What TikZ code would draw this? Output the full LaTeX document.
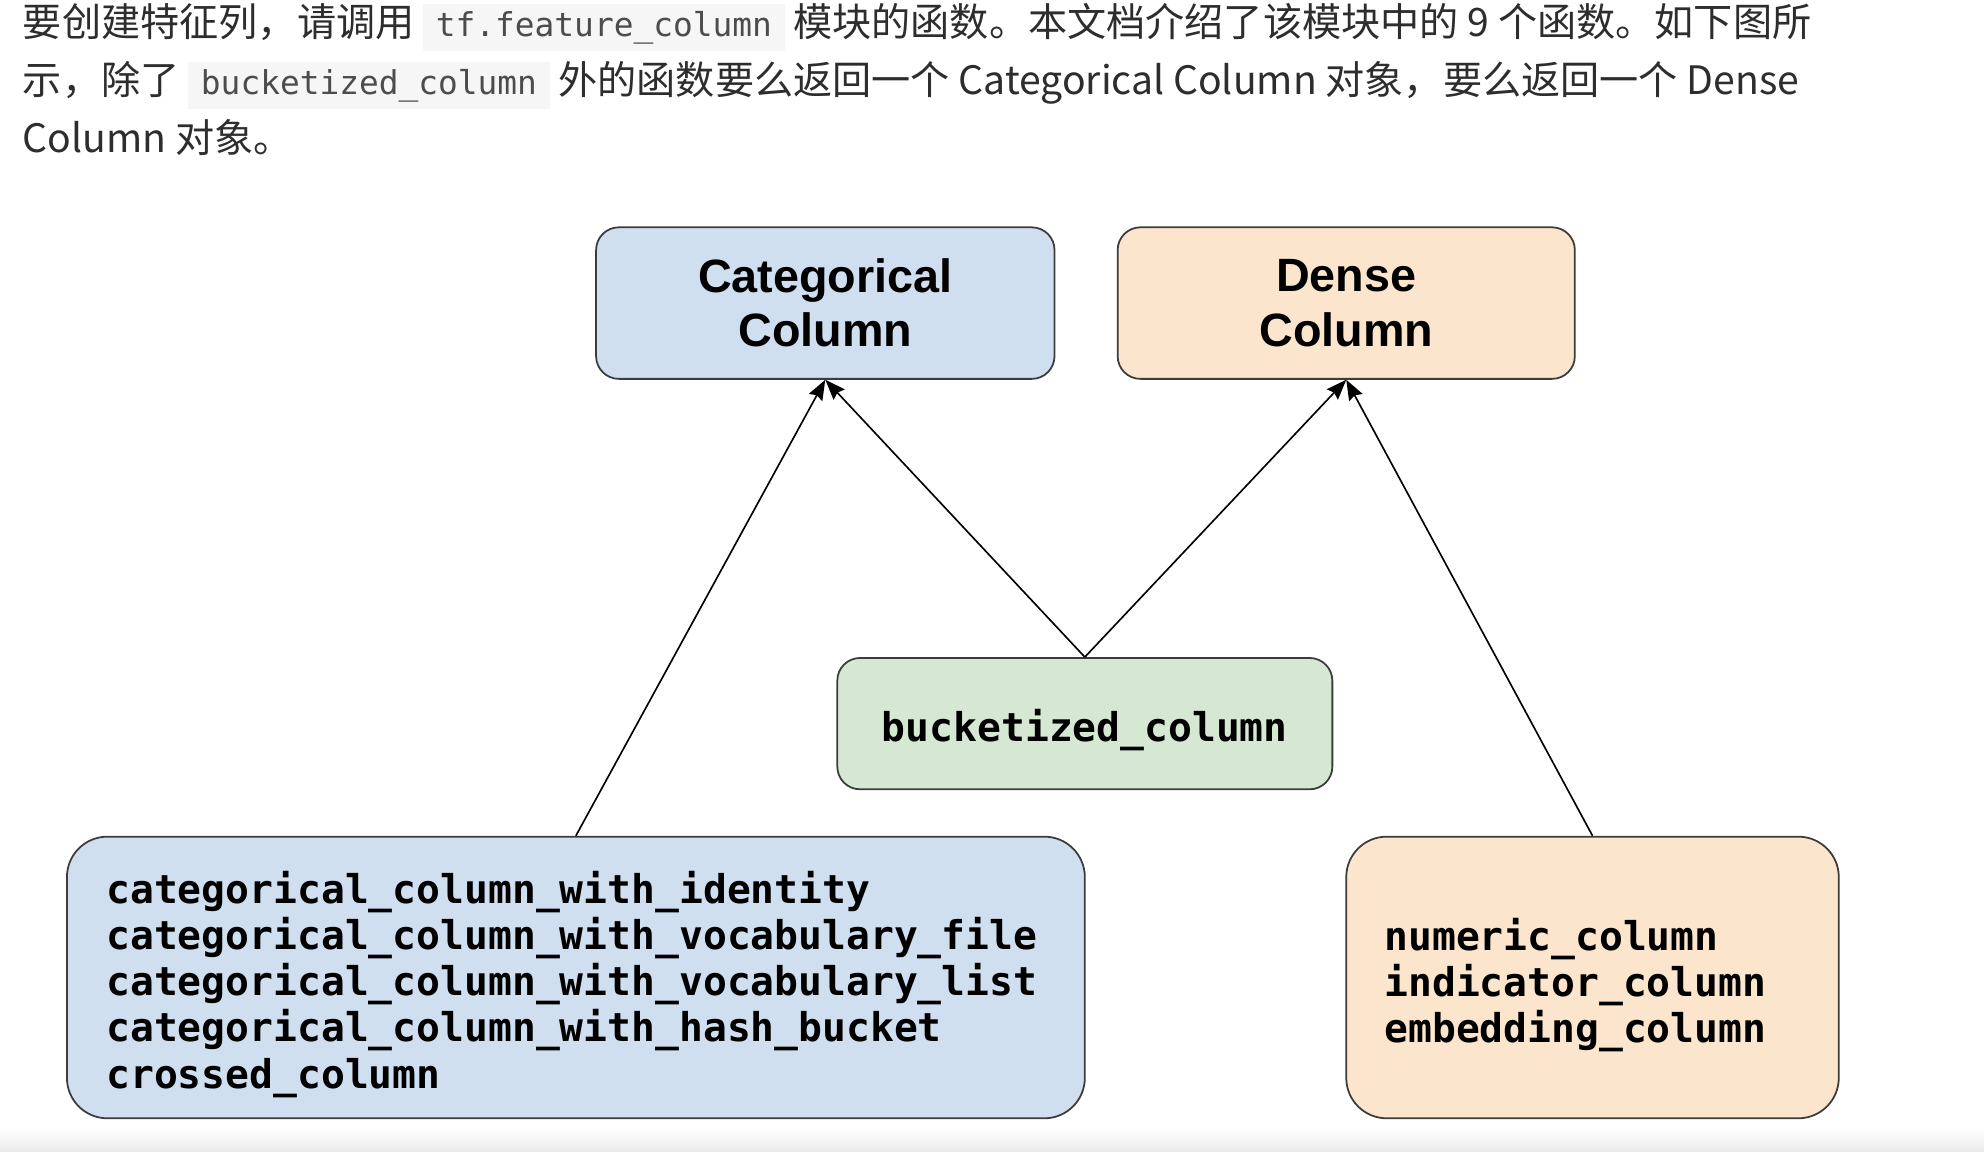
\documentclass[tikz,border=0pt]{standalone}
\usepackage{fontspec}
\usepackage{xcolor}
\usetikzlibrary{arrows.meta}

\newfontfamily\cjkfont{Noto Sans CJK SC}
\newfontfamily\codefont{DejaVu Sans Mono}
\newfontfamily\headfont{Liberation Sans}

\definecolor{catblue}{RGB}{207,223,240}
\definecolor{densepeach}{RGB}{252,229,205}
\definecolor{bucketgreen}{RGB}{214,232,212}
\definecolor{codebg}{RGB}{246,246,246}
\definecolor{bodytext}{RGB}{45,45,45}
\definecolor{boxline}{RGB}{60,60,60}

\newcommand\codespan[1]{{\setlength\fboxsep{0pt}\colorbox{codebg}{\hspace{10pt}\color{bodytext!85}\codefont\fontsize{26}{30}\selectfont\rule[-11pt]{0pt}{37pt}#1\hspace{10pt}}}}

\tikzset{
  colbox/.style={draw=boxline, line width=1.4pt, rounded corners=18pt, align=center},
  headtext/.style={font=\headfont\bfseries\fontsize{37}{43}\selectfont},
  listtext/.style={font=\codefont\bfseries\fontsize{31.4}{36.5}\selectfont, inner sep=0pt},
  bodyline/.style={anchor=base west, inner sep=0pt, text=bodytext, font=\cjkfont\fontsize{31}{36}\selectfont},
  arr/.style={-{Stealth[length=16pt,width=12pt,inset=2pt]}, line width=1.3pt}
}

\begin{document}
\begin{tikzpicture}[x=1pt, y=-1pt]
  \useasboundingbox (0,0) rectangle (1571,912);
  \shade[top color=white, bottom color=black!8] (0,893) rectangle (1571,912);

  % Intro text
  \node[bodyline] (line1) at (18,29) {要创建特征列，请调用 \codespan{tf.feature\_column} 模块的函数。本文档介绍了该模块中的 9 个函数。如下图所};
  \node[bodyline] (line2) at (18,75) {示，除了 \codespan{bucketized\_column} 外的函数要么返回一个 Categorical Column 对象，要么返回一个 Dense};
  \node[bodyline] (line3) at (18,121) {Column 对象。};

  % Column types
  \node[colbox, headtext, fill=catblue, minimum width=363pt, minimum height=120pt] (catcol) at (653.5,240) {Categorical\\Column};
  \node[colbox, headtext, fill=densepeach, minimum width=362pt, minimum height=120pt] (densecol) at (1066,240) {Dense\\Column};

  % Functions
  \node[colbox, fill=bucketgreen, minimum width=392pt, minimum height=104pt] (bucket) at (859,573) {};
  \node[listtext] (buckettext) at (859,578) {bucketized\_column};
  \node[colbox, fill=catblue, rounded corners=32pt, minimum width=806pt, minimum height=223pt] (catlist) at (456,774) {};
  \node[listtext, align=left, anchor=west] (catlisttext) at (84,779.5)
        {categorical\_column\_with\_identity\\categorical\_column\_with\_vocabulary\_file\\categorical\_column\_with\_vocabulary\_list\\categorical\_column\_with\_hash\_bucket\\crossed\_column};
  \node[colbox, fill=densepeach, rounded corners=32pt, minimum width=390pt, minimum height=223pt] (denselist) at (1261,774) {};
  \node[listtext, align=left, anchor=west] (denselisttext) at (1096,780)
        {numeric\_column\\indicator\_column\\embedding\_column};

  % Arrows
  \draw[arr] (catlist.north) -- (catcol.south);
  \draw[arr] (bucket.north) -- (catcol.south);
  \draw[arr] (bucket.north) -- (densecol.south);
  \draw[arr] (denselist.north) -- (densecol.south);
\end{tikzpicture}
\end{document}
